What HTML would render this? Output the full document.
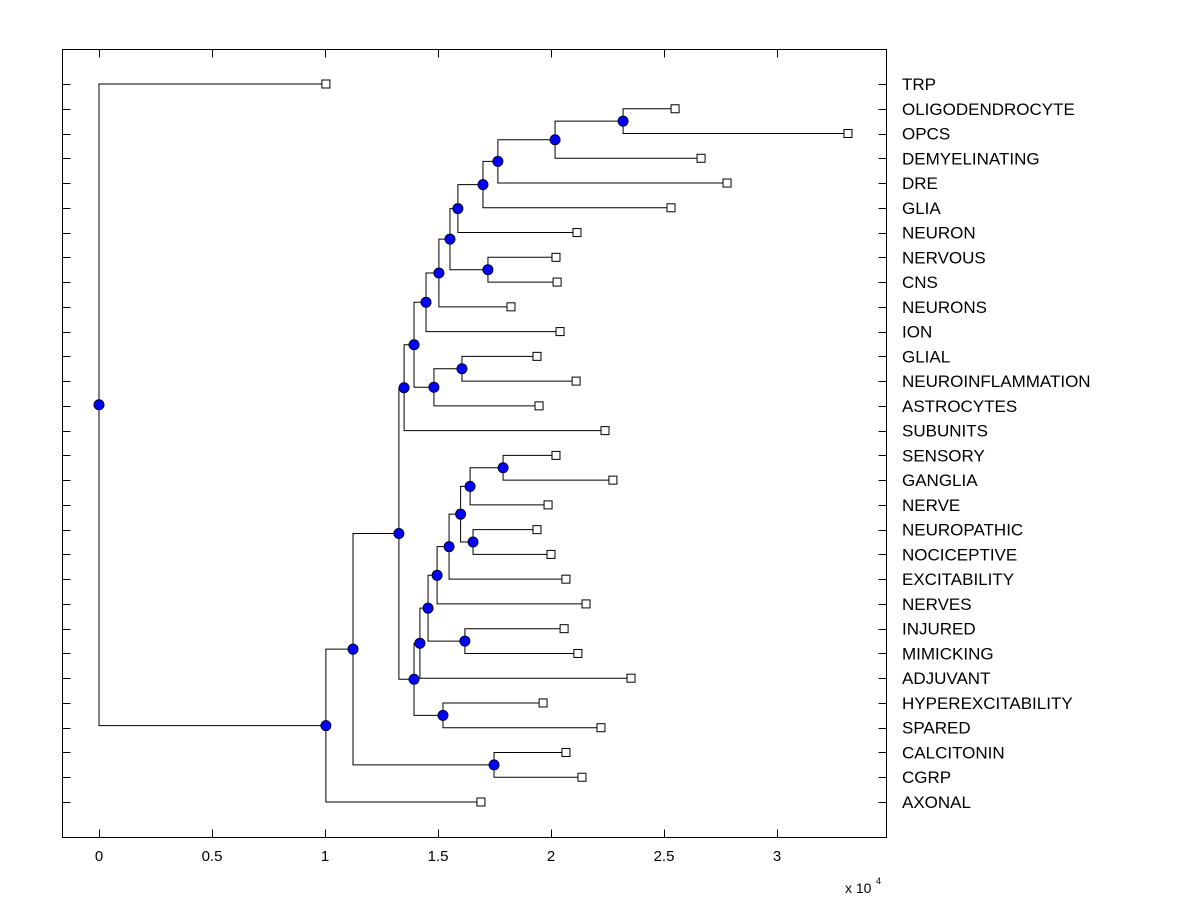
<!DOCTYPE html>
<html><head><meta charset="utf-8"><style>
body{margin:0;background:#fff;}
svg text{font-family:"Liberation Sans",Arial,sans-serif;}
</style></head><body>
<svg id="chart" width="1200" height="900" xmlns="http://www.w3.org/2000/svg">
<rect x="0" y="0" width="1200" height="900" fill="#fff"/>
<rect x="62.5" y="49.5" width="824" height="788" fill="#fff" stroke="#000" stroke-width="1"/>
<g id="g"></g>
<text x="845" y="893" font-size="14">x 10</text>
<text x="876" y="884" font-size="9">4</text>
</svg>
<script>
const leafNames=["TRP","OLIGODENDROCYTE","OPCS","DEMYELINATING","DRE","GLIA","NEURON","NERVOUS","CNS","NEURONS","ION","GLIAL","NEUROINFLAMMATION","ASTROCYTES","SUBUNITS","SENSORY","GANGLIA","NERVE","NEUROPATHIC","NOCICEPTIVE","EXCITABILITY","NERVES","INJURED","MIMICKING","ADJUVANT","HYPEREXCITABILITY","SPARED","CALCITONIN","CGRP","AXONAL"];
const leafValues=[1.004,2.549,3.314,2.664,2.779,2.531,2.115,2.022,2.027,1.823,2.04,1.938,2.111,1.947,2.239,2.022,2.274,1.987,1.938,2.0,2.066,2.155,2.058,2.119,2.354,1.965,2.221,2.066,2.137,1.690];
const mergeLeft=[1,30,31,32,33,7,34,36,37,11,39,38,41,15,43,18,44,46,47,22,48,50,25,51,42,27,54,56,0];
const mergeRight=[2,3,4,5,6,8,35,9,10,12,13,40,14,16,17,19,45,20,21,23,49,24,26,52,53,28,55,29,57];
const mergeValues=[2.319,2.018,1.765,1.699,1.588,1.721,1.553,1.504,1.447,1.606,1.482,1.394,1.35,1.788,1.642,1.655,1.6,1.549,1.496,1.619,1.456,1.42,1.522,1.394,1.327,1.748,1.124,1.004,0];
const xTicks=[0,0.5,1,1.5,2,2.5,3];
const xTickLabels=["0","0.5","1","1.5","2","2.5","3"];

const NS="http://www.w3.org/2000/svg";
const g=document.getElementById('g');
const xs=v=>99+v*226;
const ys=i=>84+i*(718/29);
function mk(tag,attrs){const e=document.createElementNS(NS,tag);for(const k in attrs)e.setAttribute(k,attrs[k]);g.appendChild(e);return e;}
const N=leafNames.length;
const posX=[],posY=[];
leafNames.forEach((n,i)=>{posX[i]=xs(leafValues[i]);posY[i]=ys(i);});
mergeValues.forEach((v,k)=>{const id=N+k;posX[id]=xs(v);posY[id]=(posY[mergeLeft[k]]+posY[mergeRight[k]])/2;});
leafNames.forEach((n,i)=>{
  const y=Math.round(ys(i))+0.5;
  const t=mk('line',{x1:62.5,x2:70.5,y1:y,y2:y,stroke:'#000'});
  
  
  const t2=mk('line',{x1:878.5,x2:886.5,y1:y,y2:y,stroke:'#000'});
  
  
  const l=mk('text',{x:902,y:ys(i)+6,'font-size':17});
  l.textContent=n;
  
  
});
xTicks.forEach((v,i)=>{
  const x=Math.round(xs(v))+0.5;
  const t=mk('line',{x1:x,x2:x,y1:829.5,y2:837.5,stroke:'#000'});
  
  
  const t2=mk('line',{x1:x,x2:x,y1:49.5,y2:57.5,stroke:'#000'});
  
  
  const l=mk('text',{x:xs(v),y:861,'font-size':15,'text-anchor':'middle'});
  l.textContent=xTickLabels[i];
  
  
});
mergeValues.forEach((v,k)=>{
  const id=N+k,a=mergeLeft[k],b=mergeRight[k];
  const x=posX[id];
  const p=mk('path',{d:`M${posX[a]},${posY[a]}H${x}V${posY[b]}H${posX[b]}`,fill:'none',stroke:'#000','stroke-width':1});
  
  
});
mergeValues.forEach((v,k)=>{
  const id=N+k;
  const c=mk('circle',{cx:posX[id],cy:posY[id],r:5,fill:'#0000ff',stroke:'#000033','stroke-width':1});
  
  
});
leafNames.forEach((n,i)=>{
  const r=mk('rect',{x:posX[i]-4,y:posY[i]-4,width:8,height:8,fill:'#fff',stroke:'#000','stroke-width':1});
  
  
});
</script>
</body></html>
